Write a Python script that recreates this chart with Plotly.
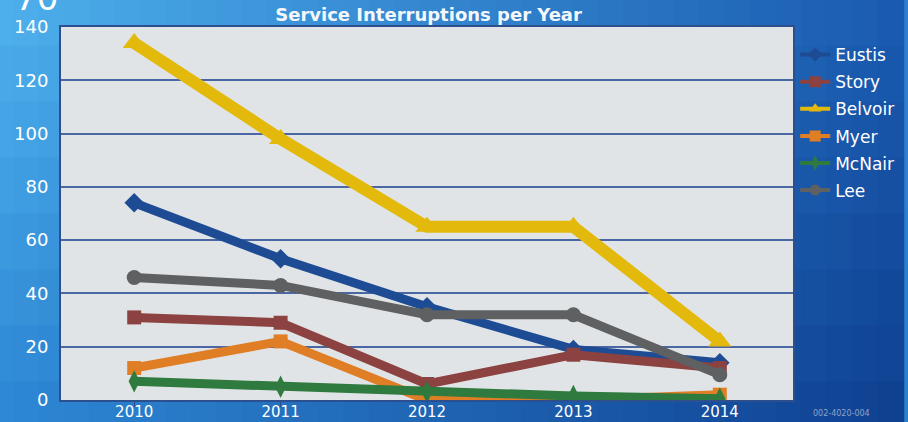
import plotly.graph_objects as go

years = ["2010", "2011", "2012", "2013", "2014"]
eustis = [74, 53, 35, 19, 14]
story = [31, 29, 6, 17, 12]
belvoir = [134, 98, 65, 65, 22]
myer = [12, 22, 0, 0, 2]
mcnair = [7, 5, 3, 1.5, 0.5]
lee = [46, 43, 32, 32, 9.5]
y_ticks = [0, 20, 40, 60, 80, 100, 120, 140]

series = [
    ("Eustis", eustis, "#1e4c94", "diamond", 9, 15),
    ("Story", story, "#8c4240", "square", 9, 14),
    ("Belvoir", belvoir, "#e3b90c", "triangle-up", 12, 20),
    ("Myer", myer, "#e07e26", "square", 9, 14),
    ("McNair", mcnair, "#2f7a3e", "diamond-tall", 9, 16),
    ("Lee", lee, "#5e6062", "circle", 9, 15),
]

fig = go.Figure()
for name, vals, col, sym, w, ms in series:
    fig.add_trace(go.Scatter(
        x=years, y=vals, name=name, mode="lines+markers",
        line=dict(color=col, width=w),
        marker=dict(color=col, symbol=sym, size=ms),
        showlegend=False,
    ))
# legend entries (thinner symbols, as in the reference legend)
for name, vals, col, sym, w, ms in series:
    fig.add_trace(go.Scatter(
        x=[None], y=[None], name=name, mode="lines+markers",
        line=dict(color=col, width=4),
        marker=dict(color=col, symbol=sym, size=11),
        legendgroup=name, showlegend=True,
    ))

# background gradient (approximated with a grid of rectangles)
def hex2rgb(h):
    h = h.lstrip("#")
    return [int(h[i:i + 2], 16) for i in (0, 2, 4)]

tl, tr, bl, br = hex2rgb("#50b3ee"), hex2rgb("#1a5cb2"), hex2rgb("#2c86d4"), hex2rgb("#0e3e8e")
shapes = []
nx, ny = 36, 8
for i in range(nx):
    for j in range(ny):
        u = (i + 0.5) / nx
        v = (j + 0.5) / ny  # 0 top, 1 bottom
        c = [round((1 - u) * (1 - v) * tl[k] + u * (1 - v) * tr[k] + (1 - u) * v * bl[k] + u * v * br[k]) for k in range(3)]
        shapes.append(dict(
            type="rect", xref="paper", yref="paper", layer="below",
            x0=-0.1 + 1.25 * i / nx, x1=-0.1 + 1.25 * (i + 1) / nx + 0.002,
            y0=1.1 - 1.2 * (j + 1) / ny - 0.002, y1=1.1 - 1.2 * j / ny,
            fillcolor="rgb(%d,%d,%d)" % tuple(c), line=dict(width=0),
        ))
shapes.append(dict(
    type="rect", xref="x domain", yref="y domain", layer="below",
    x0=0, x1=1, y0=0, y1=1, fillcolor="#e1e4e7", line=dict(width=0),
))

fig.update_layout(
    width=908, height=422,
    margin=dict(l=61, r=115, t=27, b=22, autoexpand=False),
    paper_bgcolor="#2f7fd0",
    plot_bgcolor="rgba(0,0,0,0)",
    shapes=shapes,
    font=dict(family="DejaVu Sans, Liberation Sans, sans-serif", color="white"),
    title=dict(text="<b>Service Interruptions per Year</b>", x=0.472, xanchor="center",
               yref="container", y=0.966, yanchor="middle",
               font=dict(size=18, color="#f4f8fc")),
    showlegend=True,
    legend=dict(x=1.003, y=0.973, xanchor="left", yanchor="top",
                bgcolor="rgba(0,0,0,0)", font=dict(size=17, color="white"),
                tracegroupgap=2, traceorder="grouped", itemwidth=30),
    annotations=[
        dict(text="70", xref="paper", yref="paper", x=-0.034, y=1.02,
             xanchor="center", yanchor="bottom", showarrow=False,
             font=dict(size=34, color="white")),
        dict(text="002-4020-004", xref="paper", yref="paper", x=1.066, y=-0.037,
             xanchor="center", yanchor="middle", showarrow=False,
             font=dict(size=8, color="#8fa3c8")),
    ],
)
fig.update_xaxes(
    type="category", range=[-0.5, 4.5], showgrid=False, automargin=False,
    showline=True, linecolor="#2d4f8e", linewidth=2, mirror=True,
    ticks="outside", ticklen=5, tickcolor="#2d4f8e",
    ticklabelstandoff=-8, tickfont=dict(size=15, color="white"),
)
fig.update_yaxes(
    range=[0, 140], tickvals=y_ticks, showgrid=True, gridcolor="#4a67a3", gridwidth=1.5,
    showline=True, linecolor="#2d4f8e", linewidth=2, mirror=True, zeroline=False,
    automargin=False, ticks="", ticklabelstandoff=7, tickfont=dict(size=18, color="white"),
)

fig.write_html("out.html")
